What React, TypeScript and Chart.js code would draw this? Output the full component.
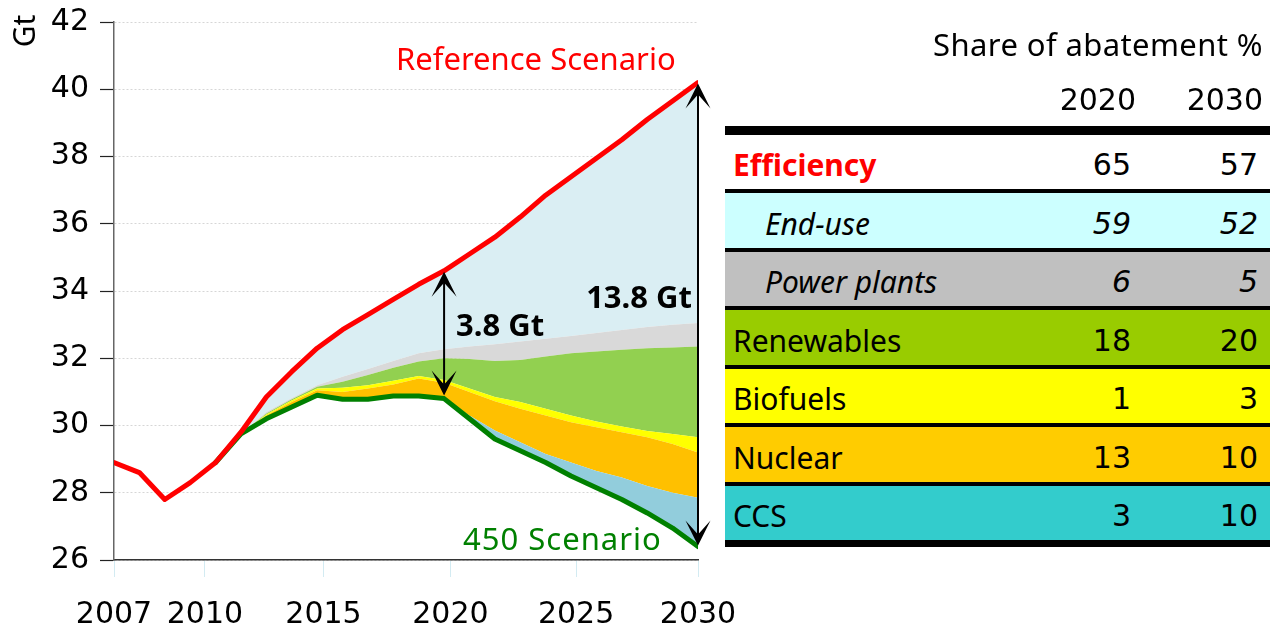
import React, { useEffect, useRef } from "react";
import { Chart, registerables } from "chart.js";

Chart.register(...registerables);

// ---------- data ----------
const years = [
  2007, 2008, 2009, 2010, 2011, 2012, 2013, 2014, 2015, 2016, 2017, 2018,
  2019, 2020, 2021, 2022, 2023, 2024, 2025, 2026, 2027, 2028, 2029, 2030,
];
const referenceScenario = [
  28.9, 28.6, 27.8, 28.3, 28.9, 29.8, 30.85, 31.6, 32.3, 32.85, 33.3, 33.75,
  34.2, 34.6, 35.1, 35.6, 36.2, 36.85, 37.4, 37.95, 38.5, 39.1, 39.65, 40.2,
];
const scenario450 = [
  null, null, null, null, 28.9, 29.75, 30.2, 30.55, 30.9, 30.78, 30.78, 30.88,
  30.88, 30.8, 30.2, 29.6, 29.25, 28.9, 28.5, 28.15, 27.8, 27.4, 26.95, 26.4,
];
// upper boundary of each abatement wedge (stacked above the 450 Scenario)
const ccsTop = [
  null, null, null, null, 28.9, 29.75, 30.2, 30.55, 30.9, 30.78, 30.78, 30.88,
  30.88, 30.8, 30.3, 29.85, 29.5, 29.15, 28.9, 28.65, 28.45, 28.2, 28.0, 27.85,
];
const nuclearTop = [
  null, null, null, null, 28.9, 29.75, 30.3, 30.7, 31.05, 31.0, 31.1, 31.22,
  31.4, 31.27, 31.0, 30.72, 30.5, 30.3, 30.1, 29.95, 29.8, 29.65, 29.45, 29.2,
];
const biofuelsTop = [
  null, null, null, null, 28.9, 29.75, 30.33, 30.74, 31.1, 31.12, 31.2, 31.33,
  31.47, 31.35, 31.1, 30.85, 30.7, 30.5, 30.3, 30.12, 29.97, 29.84, 29.75, 29.65,
];
const renewablesTop = [
  null, null, null, null, 28.9, 29.75, 30.36, 30.78, 31.15, 31.3, 31.5, 31.72,
  31.9, 32.0, 31.98, 31.92, 31.95, 32.05, 32.15, 32.2, 32.25, 32.3, 32.32, 32.35,
];
const powerPlantsTop = [
  null, null, null, null, 28.9, 29.75, 30.4, 30.82, 31.2, 31.45, 31.68, 31.92,
  32.15, 32.27, 32.35, 32.42, 32.5, 32.58, 32.66, 32.75, 32.84, 32.93, 33.0, 33.05,
];

// x tick labels and where the original slide places them on the year axis
const xTickLabels = ["2007", "2010", "2015", "2020", "2025", "2030"];
const xTickPositions = [2007, 2010.58, 2015.25, 2020.25, 2025.2, 2030];
const yMin = 26;
const yMax = 42;
const yStep = 2;

const tableTitle = "Share of abatement %";
const tableYears = ["2020", "2030"];
const tableCategories = [
  "Efficiency", "End-use", "Power plants", "Renewables", "Biofuels", "Nuclear", "CCS",
];
const share2020 = [65, 59, 6, 18, 1, 13, 3];
const share2030 = [57, 52, 5, 20, 3, 10, 10];

// ---------- styles ----------
const TEXT_FONT = "'Noto Sans', sans-serif";
const NUM_FONT = "'DejaVu Sans', sans-serif";
const RED = "#ff0000";
const GREEN = "#008000";
const C_ENDUSE = "#daeef3";
const C_POWER = "#d9d9d9";
const C_RENEW = "#92d050";
const C_BIO = "#ffff00";
const C_NUC = "#ffc000";
const C_CCS = "#92cddc";

const rowStyles = [
  { bg: "#ffffff", color: RED, bold: true, italic: false, indent: 8 },
  { bg: "#ccffff", color: "#000", bold: false, italic: true, indent: 40 },
  { bg: "#c0c0c0", color: "#000", bold: false, italic: true, indent: 40 },
  { bg: "#99cc00", color: "#000", bold: false, italic: false, indent: 8 },
  { bg: "#ffff00", color: "#000", bold: false, italic: false, indent: 8 },
  { bg: "#ffcc00", color: "#000", bold: false, italic: false, indent: 8 },
  { bg: "#33cccc", color: "#000", bold: false, italic: false, indent: 8 },
];
const rowTops = [135, 193, 252, 310, 369, 427, 486];
const rowHeights = [54, 55, 54, 55, 54, 55, 54];

function toXY(arr: (number | null)[]) {
  return years
    .map((x, i) => ({ x, y: arr[i] }))
    .filter((p) => p.y !== null) as { x: number; y: number }[];
}

function drawArrowHead(ctx: CanvasRenderingContext2D, x: number, tipY: number, dir: number) {
  // dir = -1 pointing up, +1 pointing down
  const len = 25;
  const half = 12.5;
  const notch = 11;
  ctx.save();
  ctx.fillStyle = "#000";
  ctx.beginPath();
  ctx.moveTo(x, tipY);
  ctx.lineTo(x - half, tipY - dir * len);
  ctx.lineTo(x, tipY - dir * notch);
  ctx.lineTo(x + half, tipY - dir * len);
  ctx.closePath();
  ctx.fill();
  ctx.restore();
}

function drawDoubleArrow(ctx: CanvasRenderingContext2D, x: number, yTop: number, yBot: number) {
  ctx.save();
  ctx.strokeStyle = "#000";
  ctx.lineWidth = 2;
  ctx.beginPath();
  ctx.moveTo(x, yTop + 8);
  ctx.lineTo(x, yBot - 8);
  ctx.stroke();
  ctx.restore();
  drawArrowHead(ctx, x, yTop, -1);
  drawArrowHead(ctx, x, yBot, 1);
}

const annotationPlugin = {
  id: "annotations",
  afterDatasetsDraw(chart: any) {
    const { ctx, scales } = chart;
    const xs = scales.x;
    const ys = scales.y;
    const i2020 = years.indexOf(2020);
    const i2030 = years.indexOf(2030);
    const x20 = xs.getPixelForValue(2020);
    const x30 = xs.getPixelForValue(2030);
    drawDoubleArrow(
      ctx, x20,
      ys.getPixelForValue(referenceScenario[i2020]) + 1,
      ys.getPixelForValue(scenario450[i2020] as number) - 3
    );
    drawDoubleArrow(
      ctx, x30,
      ys.getPixelForValue(referenceScenario[i2030]) + 1,
      ys.getPixelForValue(scenario450[i2030] as number) - 1
    );

    ctx.save();
    ctx.textBaseline = "alphabetic";
    ctx.textAlign = "left";
    ctx.fillStyle = RED;
    ctx.font = `31px ${TEXT_FONT}`;
    ctx.fillText("Reference Scenario", 396, 70);
    ctx.fillStyle = GREEN;
    (ctx as any).letterSpacing = "1px";
    ctx.fillText("450 Scenario", 463, 550);
    (ctx as any).letterSpacing = "0px";
    ctx.fillStyle = "#000";
    ctx.font = `bold 31px ${TEXT_FONT}`;
    ctx.fillText("3.8 Gt", 456, 336);
    ctx.textAlign = "right";
    ctx.fillText("13.8 Gt", 692, 308);
    // unit label
    ctx.translate(26, 31);
    ctx.rotate(-Math.PI / 2);
    ctx.textAlign = "center";
    ctx.textBaseline = "middle";
    ctx.font = `30px ${TEXT_FONT}`;
    ctx.fillText("Gt", 0, 0);
    ctx.restore();
  },
};

function ShareTable() {
  const left = 725;
  const width = 545;
  const col2020Right = 1131;
  const col2030Right = 1258;
  return (
    <>
      <div
        style={{
          position: "absolute", left: 0, width: 1263, top: 24, height: 40,
          lineHeight: "40px", textAlign: "right", fontFamily: TEXT_FONT,
          fontSize: 31, letterSpacing: "0.4px", color: "#000", whiteSpace: "nowrap",
        }}
      >
        {tableTitle}
      </div>
      {tableYears.map((yr, k) => (
        <div
          key={yr}
          style={{
            position: "absolute", left: 0,
            width: k === 0 ? col2020Right + 5 : col2030Right + 5,
            top: 80, height: 40, lineHeight: "40px", textAlign: "right",
            fontFamily: NUM_FONT, fontSize: 30, color: "#000",
          }}
        >
          {yr}
        </div>
      ))}
      <div style={{ position: "absolute", left, width, top: 126, height: 9, background: "#000" }} />
      {tableCategories.map((cat, i) => {
        const st = rowStyles[i];
        const top = rowTops[i];
        const h = rowHeights[i];
        const textStyle: React.CSSProperties = {
          position: "absolute", top: 3, height: h, lineHeight: `${h}px`,
          fontStyle: st.italic ? "italic" : "normal", whiteSpace: "nowrap",
        };
        return (
          <React.Fragment key={cat}>
            <div style={{ position: "absolute", left, width, top, height: h, background: st.bg }}>
              <div
                style={{
                  ...textStyle, left: st.indent, fontFamily: TEXT_FONT, fontSize: 30,
                  fontWeight: st.bold ? 700 : 400, color: st.color,
                }}
              >
                {cat}
              </div>
              <div
                style={{
                  ...textStyle, left: 0, width: col2020Right - left, textAlign: "right",
                  fontFamily: NUM_FONT, fontSize: 30, color: "#000",
                }}
              >
                {share2020[i]}
              </div>
              <div
                style={{
                  ...textStyle, left: 0, width: col2030Right - left, textAlign: "right",
                  fontFamily: NUM_FONT, fontSize: 30, color: "#000",
                }}
              >
                {share2030[i]}
              </div>
            </div>
            <div
              style={{
                position: "absolute", left, width, top: top + h,
                height: i === tableCategories.length - 1 ? 7 : 4, background: "#000",
              }}
            />
          </React.Fragment>
        );
      })}
    </>
  );
}

export default function App() {
  const canvasRef = useRef<HTMLCanvasElement | null>(null);

  useEffect(() => {
    if (!canvasRef.current) return;
    const area = (data: (number | null)[], color: string, fill: any) => ({
      data: toXY(data),
      borderColor: "rgba(0,0,0,0)",
      borderWidth: 1,
      backgroundColor: color,
      pointRadius: 0,
      fill,
    });
    const chart = new Chart(canvasRef.current, {
      type: "line",
      data: {
        datasets: [
          {
            label: "Reference Scenario",
            data: toXY(referenceScenario),
            borderColor: RED,
            borderWidth: 5,
            borderCapStyle: "round",
            borderJoinStyle: "round",
            pointRadius: 0,
            fill: false,
          },
          {
            label: "450 Scenario",
            data: toXY(scenario450),
            borderColor: GREEN,
            borderWidth: 5,
            borderCapStyle: "round",
            borderJoinStyle: "round",
            pointRadius: 0,
            fill: false,
          },
          { label: "CCS", ...area(ccsTop, C_CCS, 1) },
          { label: "Nuclear", ...area(nuclearTop, C_NUC, "-1") },
          { label: "Biofuels", ...area(biofuelsTop, C_BIO, "-1") },
          { label: "Renewables", ...area(renewablesTop, C_RENEW, "-1") },
          { label: "Power plants", ...area(powerPlantsTop, C_POWER, "-1") },
          {
            label: "End-use",
            ...area(
              referenceScenario.map((v, i) => (powerPlantsTop[i] === null ? null : v)),
              C_ENDUSE,
              "-1"
            ),
          },
        ],
      } as any,
      options: {
        responsive: false,
        animation: false,
        devicePixelRatio: 1,
        events: [],
        layout: { padding: { top: 22, right: 572, left: 0, bottom: 0 } },
        plugins: {
          legend: { display: false },
          tooltip: { enabled: false },
          title: { display: false },
        },
        elements: { line: { tension: 0 } },
        scales: {
          x: {
            type: "linear",
            min: years[0],
            max: years[years.length - 1],
            afterBuildTicks: (s: any) => {
              s.ticks = xTickPositions.map((v) => ({ value: v }));
            },
            afterFit: (s: any) => {
              s.height = 67;
            },
            ticks: {
              autoSkip: false,
              maxRotation: 0,
              padding: 20,
              color: "#000",
              font: { family: NUM_FONT, size: 30 },
              callback: (_v: any, idx: number) => xTickLabels[idx],
            },
            grid: {
              drawOnChartArea: false,
              drawTicks: true,
              tickLength: 17,
              tickColor: "#d3ebf2",
              tickWidth: 1,
            },
            border: { display: true, color: "#333", width: 1.5 },
          },
          y: {
            type: "linear",
            min: yMin,
            max: yMax,
            afterFit: (s: any) => {
              s.width = 114;
              s.paddingTop = 0;
              s.paddingBottom = 0;
            },
            ticks: {
              stepSize: yStep,
              padding: 11,
              color: "#000",
              font: { family: NUM_FONT, size: 30 },
            },
            grid: {
              color: "#d6d6d6",
              lineWidth: 1,
              tickColor: "#222",
              tickLength: 14,
              tickWidth: 1.2,
            },
            border: { display: true, color: "#666", width: 1.5, dash: [2, 2] },
          },
        },
      } as any,
      plugins: [annotationPlugin],
    });
    return () => chart.destroy();
  }, []);

  return (
    <div
      style={{
        position: "fixed", left: 0, top: 0, width: 1270, height: 627,
        background: "#fff", overflow: "hidden",
      }}
    >
      <canvas
        ref={canvasRef}
        width={1270}
        height={627}
        style={{ position: "absolute", left: 0, top: 0, width: 1270, height: 627 }}
      />
      <ShareTable />
    </div>
  );
}
